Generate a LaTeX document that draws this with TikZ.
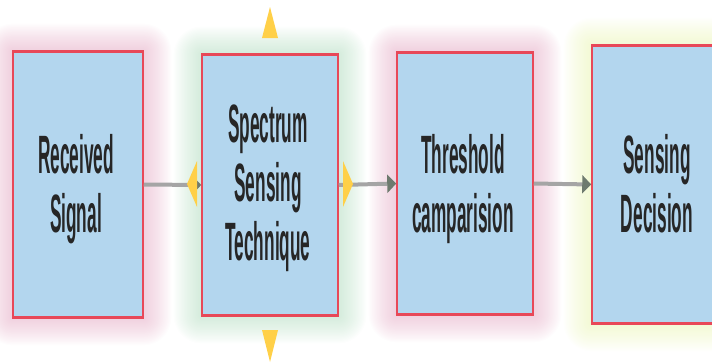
\documentclass[tikz,border=0pt]{standalone}
\usepackage{fontspec}
\setmainfont{Liberation Sans}
\usetikzlibrary{arrows.meta,backgrounds,calc}
\definecolor{boxfill}{RGB}{179,214,238}
\definecolor{boxline}{RGB}{232,72,88}
\definecolor{txt}{RGB}{38,38,38}
\definecolor{lnk}{RGB}{165,165,165}
\definecolor{headc}{RGB}{110,122,110}
\definecolor{handle}{RGB}{255,208,72}
\definecolor{glowpink}{RGB}{222,150,182}
\definecolor{glowgreen}{RGB}{160,212,176}
\definecolor{glowyellow}{RGB}{228,242,160}
\newcommand{\lbl}[1]{\scalebox{0.32}[1]{\fontsize{54}{59}\selectfont\bfseries\begin{tabular}[t]{@{}c@{}}#1\end{tabular}}}
\newcommand{\glowbox}[2]{%
  \foreach \i in {1,...,24}{
    \fill[#2, opacity=0.024, rounded corners={1.15*\i pt}] ($(#1.north west)+(-1.15*\i,-1.15*\i)$) rectangle ($(#1.south east)+(1.15*\i,1.15*\i)$);
  }}
\newcommand{\edgelines}[1]{%
  \draw[boxline, line width=3pt] (#1.north west) -- (#1.north east);
  \draw[boxline, line width=3pt] (#1.south west) -- (#1.south east);}
\tikzset{
  box/.style={draw=boxline, line width=1.5pt, fill=boxfill, inner sep=0pt},
  lbltext/.style={anchor=base, text=txt, inner sep=0pt},
  link/.style={draw=lnk, line width=4pt, -{Triangle[length=9pt,width=18pt,color=headc]}},
  handlestyle/.style={fill=handle, draw=none}
}
\begin{document}
\begin{tikzpicture}[x=1pt,y=-1pt]
\useasboundingbox (0,0) rectangle (712,364);
\clip (0,0) rectangle (712,364);
\node[box, minimum width=130pt, minimum height=265pt] (b1) at (78,184.5) {};
\node[box, minimum width=136pt, minimum height=260pt] (b2) at (270,185) {};
\node[box, minimum width=136pt, minimum height=261pt] (b3) at (465,183.5) {};
\node[box, minimum width=130pt, minimum height=277pt] (b4) at (657,184.5) {};
\begin{pgfonlayer}{background}
  \glowbox{b1}{glowpink}
  \glowbox{b2}{glowgreen}
  \glowbox{b3}{glowpink}
  \glowbox{b4}{glowyellow}
\end{pgfonlayer}
\edgelines{b1}
\edgelines{b2}
\edgelines{b3}
\edgelines{b4}
\node[lbltext] (t1) at (76,173) {\lbl{Received\\Signal}};
\node[lbltext] (t2) at (268,142) {\lbl{Spectrum\\Sensing\\Technique}};
\node[lbltext] (t3) at (463,173) {\lbl{Threshold\\camparision}};
\node[lbltext] (t4) at (657,173) {\lbl{Sensing\\Decision}};
\draw[link] (b1.east) -- (b2.west);
\draw[link] (b2.east) -- (b3.west);
\draw[link] (b3.east) -- (b4.west);
\fill[handlestyle] (262,38) -- (278,38) -- (270,7) -- cycle;
\fill[handlestyle] (262,330) -- (278,330) -- (270,362) -- cycle;
\fill[handlestyle] (197,161) -- (197,207) -- (187,184) -- cycle;
\fill[handlestyle] (343,161) -- (343,207) -- (353,184) -- cycle;
\end{tikzpicture}
\end{document}
